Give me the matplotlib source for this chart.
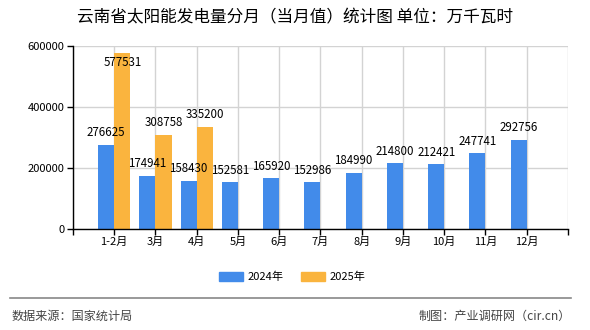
import matplotlib
matplotlib.use("Agg")
from matplotlib import pyplot as plt
from matplotlib.patches import Patch
import numpy as np

plt.rcParams['font.family'] = ['Noto Sans CJK SC', 'DejaVu Sans']

title = "云南省太阳能发电量分月（当月值）统计图 单位：万千瓦时"
months = ["1-2月", "3月", "4月", "5月", "6月", "7月", "8月", "9月", "10月", "11月", "12月"]
values_2024 = [276625, 174941, 158430, 152581, 165920, 152986, 184990, 214800, 212421, 247741, 292756]
values_2025 = [577531, 308758, 335200]
series_names = ["2024年", "2025年"]
colors = ["#428bea", "#fab43e"]

ymax = 600000
bw = 0.39

fig = plt.figure(figsize=(5.9, 3.3), dpi=100)
ax = fig.add_axes([0.1237, 0.306, 0.839, 0.5546])

x24 = np.arange(1, len(values_2024) + 1)
x25 = np.arange(1, len(values_2025) + 1)
ax.bar(x24, values_2024, width=-bw, align='edge', color=colors[0], zorder=3)
ax.bar(x25, values_2025, width=bw, align='edge', color=colors[1], zorder=3)


def label_bars(xs, vals):
    for x, v in zip(xs, vals):
        if v > ymax * 0.9:
            ax.annotate(str(v), (x, v), xytext=(0, -2), textcoords='offset points',
                        ha='center', va='top', fontsize=8.3, zorder=5)
        else:
            ax.annotate(str(v), (x, v), xytext=(0, 4), textcoords='offset points',
                        ha='center', va='bottom', fontsize=8.3, zorder=5)


label_bars(x24 - bw / 2, values_2024)
label_bars(x25 + bw / 2, values_2025)

ax.set_xlim(0, len(months) + 1)
ax.set_ylim(0, ymax)
ax.set_xticks(np.arange(0, len(months) + 2))
ax.set_xticklabels([""] + months + [""], fontsize=8)
ax.set_yticks([0, 200000, 400000, 600000])
ax.set_yticklabels(["0", "200000", "400000", "600000"], fontsize=8)
ax.tick_params(axis='both', length=4, width=1, color='black', pad=2)

ax.grid(True, color='#d3d3d3', lw=1, zorder=0)
for s in ['top', 'right']:
    ax.spines[s].set_visible(False)
for s in ['left', 'bottom']:
    ax.spines[s].set_color('black')
    ax.spines[s].set_linewidth(1)
    ax.spines[s].set_zorder(4)

fig.text(0.5, 0.945, title, ha='center', va='center', fontsize=12)

handles = [Patch(color=c, label=n) for c, n in zip(colors, series_names)]
fig.legend(handles=handles, loc='center', bbox_to_anchor=(0.495, 0.16), ncol=2,
           frameon=False, fontsize=8, handlelength=2.2, handleheight=0.9,
           handletextpad=0.35, columnspacing=1.6)

fig.add_artist(plt.Line2D([0.017, 0.968], [0.097, 0.097], color='#888888', lw=1.2))
fig.text(0.02, 0.042, "数据来源：国家统计局", ha='left', va='center', fontsize=8.7, color='#444444')
fig.text(0.968, 0.042, "制图：产业调研网（cir.cn）", ha='right', va='center', fontsize=8.7, color='#444444')

fig.savefig("out.png", dpi=100)
